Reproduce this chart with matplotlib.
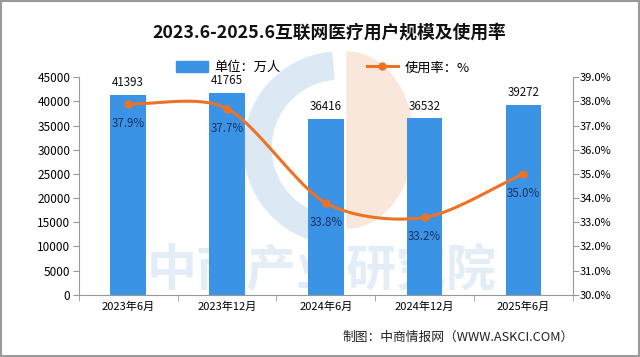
import numpy as np
import matplotlib.pyplot as plt
from matplotlib.patches import Rectangle, Wedge, Polygon
from matplotlib.lines import Line2D

plt.rcParams['font.family'] = ['Noto Sans CJK SC', 'DejaVu Sans']

# 数据
categories = ['2023年6月', '2023年12月', '2024年6月', '2024年12月', '2025年6月']
users = [41393, 41765, 36416, 36532, 39272]        # 万人
rate = [37.9, 37.7, 33.8, 33.2, 35.0]              # %

bar_color = '#3b93e6'
line_color = '#ec7323'
label_color = '#1c2f5e'


def smooth(xs, ys, n=30, k=0.85):
    # Catmull-Rom 曲线（模拟 Excel 平滑线）
    xs = np.asarray(xs, float)
    ys = np.asarray(ys, float)
    px = np.concatenate([[2 * xs[0] - xs[1]], xs, [2 * xs[-1] - xs[-2]]])
    py = np.concatenate([[2 * ys[0] - ys[1]], ys, [2 * ys[-1] - ys[-2]]])
    out_x, out_y = [], []
    t = np.linspace(0, 1, n)
    for i in range(1, len(px) - 2):
        for p, o in ((px, out_x), (py, out_y)):
            p1, p2 = p[i], p[i + 1]
            m1 = k * (p[i + 1] - p[i - 1]) / 2
            m2 = k * (p[i + 2] - p[i]) / 2
            h00 = 2 * t ** 3 - 3 * t ** 2 + 1
            h10 = t ** 3 - 2 * t ** 2 + t
            h01 = -2 * t ** 3 + 3 * t ** 2
            h11 = t ** 3 - t ** 2
            o.extend(h00 * p1 + h10 * m1 + h01 * p2 + h11 * m2)
    return np.array(out_x), np.array(out_y)


fig = plt.figure(figsize=(6.4, 3.57), dpi=100)
fig.patch.set_facecolor('white')
fig.patches.append(Rectangle((0.002, 0.003), 0.996, 0.994, transform=fig.transFigure,
                             fill=False, edgecolor='#9a9a9a', linewidth=1.5))

# 水印
wm = fig.add_axes([0, 0, 1, 1], zorder=0)
wm.set_xlim(0, 640)
wm.set_ylim(357, 0)
wm.axis('off')
wm.add_patch(Wedge((340, 148), 96, 90, 265, width=27, color='#dce8f3'))
tt = np.linspace(-np.pi / 2, np.pi / 2, 60)
wm.add_patch(Polygon(np.column_stack([347 + 66 * np.cos(tt), 140 + 88 * np.sin(tt)]),
                     closed=True, color='#fae7dc'))
wm.text(322, 272, '中商产业研究院', fontsize=36, fontweight='bold', color='#e2edf7',
        ha='center', va='center')

ax = fig.add_axes([0.123, 0.174, 0.772, 0.610], zorder=1)
ax.patch.set_alpha(0)
x = np.arange(len(categories))
ax.bar(x, users, width=0.36, color=bar_color, zorder=2)
for xi, v in zip(x, users):
    ax.annotate(str(v), (xi, v), xytext=(0, 4), textcoords='offset points',
                ha='center', va='bottom', fontsize=8.3, color='#111111')

ax.set_xlim(-0.5, len(categories) - 0.5)
ax.set_ylim(0, 45000)
ax.set_yticks(np.arange(0, 45001, 5000))
ax.set_xticks(x)
ax.set_xticklabels(categories)
ax.set_xticks(np.arange(-0.5, len(categories), 1), minor=True)
ax.tick_params(axis='x', which='major', length=0, labelsize=8, pad=5)
ax.tick_params(axis='x', which='minor', length=4, color='#999999')
ax.tick_params(axis='y', labelsize=8.5, length=4, color='#999999', pad=2)
for s in ['top', 'right']:
    ax.spines[s].set_visible(False)
for s in ['left', 'bottom']:
    ax.spines[s].set_color('#999999')

ax2 = ax.twinx()
ax2.set_ylim(30, 39)
ax2.set_yticks(np.arange(30, 39.01, 1))
ax2.set_yticklabels([f'{v:.1f}%' for v in np.arange(30, 39.01, 1)])
ax2.tick_params(axis='y', labelsize=8, length=4, color='#999999', pad=1)
for s in ['top', 'left', 'bottom']:
    ax2.spines[s].set_visible(False)
ax2.spines['right'].set_color('#999999')

sx, sy = smooth(x, rate)
ax2.plot(sx, sy, color=line_color, linewidth=2.2, zorder=3)
ax2.plot(x, rate, 'o', color=line_color, markersize=5, zorder=4)
for xi, v in zip(x, rate):
    ax2.annotate(f'{v:.1f}%', (xi, v), xytext=(0, -14), textcoords='offset points',
                 ha='center', va='center', fontsize=8.3, color=label_color)

fig.text(0.515, 0.908, '2023.6-2025.6互联网医疗用户规模及使用率', ha='center', va='center',
         fontsize=12.8, fontweight='bold', color='#111111')

handles = [Rectangle((0, 0), 1, 1, color=bar_color),
           Line2D([0], [0], color=line_color, linewidth=2.2, marker='o', markersize=5)]
fig.legend(handles, ['单位：万人', '使用率：%'], loc='center', bbox_to_anchor=(0.505, 0.81),
           ncol=2, frameon=False, fontsize=9.5, handlelength=2.4, handleheight=0.9,
           handletextpad=0.5, columnspacing=6.5)

fig.text(0.896, 0.056, '制图：中商情报网（WWW.ASKCI.COM）', ha='right', va='center',
         fontsize=9.2, color='#222222')

fig.savefig('out.png', dpi=100)
